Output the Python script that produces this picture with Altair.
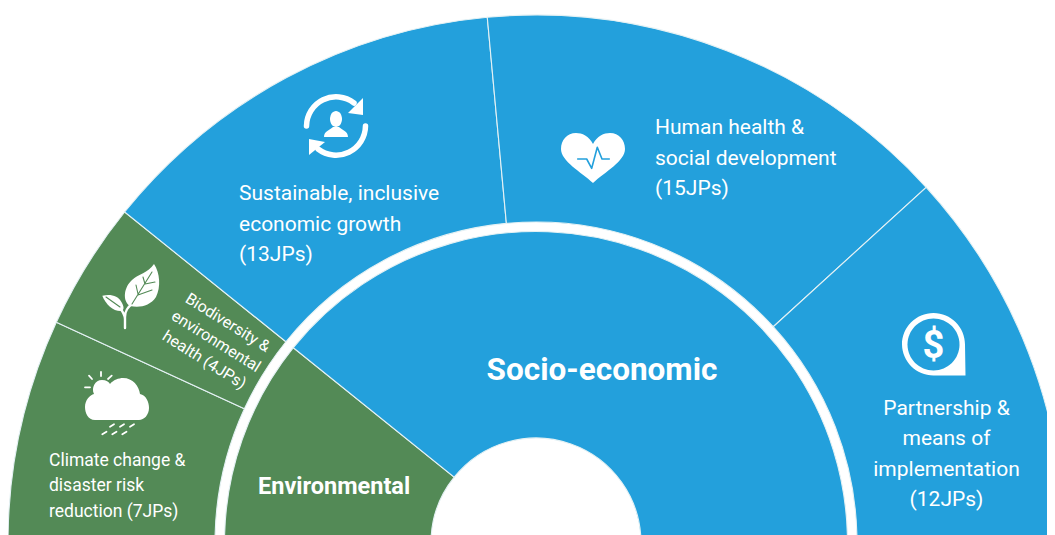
import math
import altair as alt
import pandas as pd

# ---- data ----
outer_names = ["Climate change", "Biodiversity", "Sustainable growth", "Human health", "Partnership"]
outer_groups = ["Environmental", "Environmental", "Socio-economic", "Socio-economic", "Socio-economic"]
outer_jps = [7, 4, 13, 15, 12]
inner_names = ["Environmental", "Socio-economic"]
inner_jps = [11, 40]
group_names = ["Environmental", "Socio-economic"]
group_colors = ["#538A56", "#23A0DC"]

BLUE, GREEN = group_colors[1], group_colors[0]
WHITE = "#FFFFFF"
FONT = "Roboto"
CX, CY = 536, 543  # page coordinates of the half-ring centre
R_HOLE, R_IN, R_OUT_IN, R_OUT = 105, 311.5, 321, 528


def ring(names, groups, jps):
    ends = pd.Series(jps).cumsum()
    return pd.DataFrame({"name": names, "group": groups, "start": ends - pd.Series(jps), "end": ends})


theta_scale = alt.Scale(domain=[0, sum(outer_jps)], range=[-math.pi / 2, math.pi / 2], nice=False, zero=False)
color_scale = alt.Scale(domain=group_names, range=group_colors)


def arcs(df, r0, r1):
    return alt.Chart(df).mark_arc(
        radius=r1, radius2=r0, stroke="#E4F1F4", strokeWidth=1.1
    ).encode(
        theta=alt.Theta("start:Q", scale=theta_scale),
        theta2="end:Q",
        color=alt.Color("group:N", scale=color_scale, legend=None),
        detail="name:N",
        x=alt.value(CX - 8),
        y=alt.value(CY - 8),
    )


def text(s, x, y, size, align="left", weight=400, angle=0, line=None, color="#FFFFFF"):
    kw = dict(lineBreak="\n", font=FONT, fontSize=size, fontWeight=weight, align=align,
              baseline="alphabetic", angle=angle, color=color)
    if line:
        kw["lineHeight"] = line
    return alt.Chart(pd.DataFrame({"t": [s]})).mark_text(**kw).encode(
        text="t:N", x=alt.value(x - 8), y=alt.value(y - 8))


def icon(path, x, y, fill=WHITE, stroke_width=0):
    # size 4 makes one path unit equal to one pixel
    if stroke_width:
        kw = dict(filled=False, stroke=fill, strokeWidth=stroke_width, strokeCap="round", strokeJoin="round")
    else:
        kw = dict(filled=True, fill=fill, strokeWidth=0)
    return alt.Chart(pd.DataFrame({"a": [0]})).mark_point(shape=path, size=4, opacity=1, **kw).encode(
        x=alt.value(x - 8), y=alt.value(y - 8))


layers = [
    arcs(ring(outer_names, outer_groups, outer_jps), R_OUT_IN, R_OUT),
    arcs(ring(inner_names, inner_names, inner_jps), R_HOLE, R_IN),
]

# labels
layers += [
    text("Socio-economic", 602, 380, 31.5, align="center", weight=700),
    text("Environmental", 258, 494, 23.5, weight=700),
    text("Sustainable, inclusive\neconomic growth\n(13JPs)", 239, 200, 21, line=30.5),
    text("Human health &\nsocial development\n(15JPs)", 655, 134, 21, line=30.5),
    text("Partnership &\nmeans of\nimplementation\n(12JPs)", 946.5, 415, 21, align="center", line=30.3),
    text("Climate change &\ndisaster risk\nreduction (7JPs)", 49, 465.7, 17.5, line=25.5),
    text("Biodiversity &\nenvironmental\nhealth (4JPs)", 225, 327, 16, align="center", angle=32, line=22),
]

# sync / person icon
layers += [
    icon("M-29.5,0 A29.5,29.5 0 0 1 18,-23", 336, 126, stroke_width=5.5),
    icon("M29.5,0 A29.5,29.5 0 0 1 -18,23", 336, 126, stroke_width=5.5),
    icon("M27,-28 L27,-11 L12,-13 Z", 336, 126),
    icon("M-27,29 L-27,13 L-11,16 Z", 336, 126),
    icon("M-6,-7 A6,8 0 1 1 6,-7 A6,8 0 1 1 -6,-7 Z", 336, 126),
    icon("M-12,11 C-12,5 -6,4 -3,1 L3,1 C6,4 12,5 12,11 Z", 336, 126),
]
# heart icon
layers += [
    icon("M0,-14 C-4,-22 -11,-25 -17,-25 C-26,-25 -32,-18 -32,-9 C-32,3 -12,14 0,25 "
         "C12,14 32,3 32,-9 C32,-18 26,-25 17,-25 C11,-25 4,-22 0,-14 Z", 593, 158),
    icon("M-15.3,1 L-6.3,1 L-1.3,10.3 L4.3,-10.7 L9,1 L16.3,1", 593, 158, fill=BLUE, stroke_width=1.6),
]
# dollar icon
layers += [
    icon("M-31.5,0 A31.5,31.5 0 1 1 31.5,0 L32,31 L0,31 A31.5,31.5 0 0 1 -31.5,0 Z", 933.5, 344.5),
    icon("M-26,0 A26,26 0 1 1 26,0 A26,26 0 1 1 -26,0 Z", 933.5, 344.5, fill=BLUE),
    text("$", 933.5, 358, 38, align="center", weight=700),
]
# leaf icon
layers += [
    icon("M0,11 C-8,6 -6,-8 2,-15 C8,-21 18,-22 24,-31 C30,-22 31,-8 26,2 C20,11 10,13 0,11 Z", 130, 295),
    icon("M-27.7,0.7 C-20,-1 -12,0 -8,8 C-6,12 -6,14 -8,16 C-16,17 -24,10 -27.7,0.7 Z", 130, 295),
    icon("M-5,33 L-5,22 C-5,15 -2,12 2,9 M-5,24 C-5,20 -7,17 -10,13", 130, 295, stroke_width=2.4),
    icon("M2,9 L22,-23 M8,0 L22,-5 M8,-1 L6,-10 M15,-11 L25,-13 M15,-11 L13,-18 M-24,2 L-10,12",
         130, 295, fill=GREEN, stroke_width=1.1),
]
# cloud icon
layers += [
    icon("M-22,20 C-29,20 -32,13 -32,7 C-32,0 -27,-5 -23,-6 C-26,-12 -22,-20 -15,-20 C-11,-20 -8,-18 -7,-16 "
         "C-4,-20 2,-22 6,-22 C16,-22 22,-14 23,-6 C29,-5 32,2 32,8 C32,15 27,20 22,20 Z", 117, 400),
    icon("M-16,-28 L-16,-24 M-28,-24.3 L-25,-21 M-32,-12.7 L-27,-12.7 M-5.3,-24.3 L-9,-21",
         117, 400, stroke_width=1.8),
    icon("M-7,26.7 L-3,24.3 M3,26.7 L7,24.3 M13,26.7 L17,24.3 M-14.7,34.3 L-10.5,31.7 M-4.7,34.3 L-0.5,31.7 M5.3,34.3 L9.5,31.7",
         117, 400, stroke_width=1.8),
]

chart = alt.layer(*layers).properties(
    width=1039, height=527, padding=0,
    autosize=alt.AutoSizeParams(type="none"),
    background="#FFFFFF",
).configure_view(stroke=None)

chart.save("out.html", embed_options={"renderer": "svg", "actions": False})
